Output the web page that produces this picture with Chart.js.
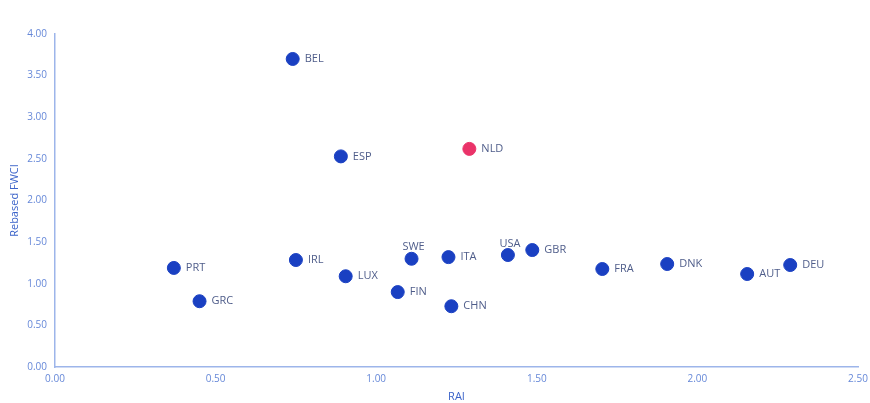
<!DOCTYPE html>
<html>
<head>
<meta charset="utf-8">
<script src="https://cdn.jsdelivr.net/npm/chart.js@4"></script>
<style>
  html, body { margin: 0; padding: 0; background: #fff; }
  #wrap { width: 870px; height: 403px; }
</style>
</head>
<body>
<div id="wrap"><canvas id="myChart" width="870" height="403"></canvas></div>
<script>
const countries = ['BEL', 'ESP', 'NLD', 'PRT', 'GRC', 'IRL', 'LUX', 'SWE', 'FIN', 'ITA', 'CHN', 'USA', 'GBR', 'FRA', 'DNK', 'AUT', 'DEU']
const raiValues = [0.74, 0.89, 1.29, 0.37, 0.45, 0.75, 0.905, 1.11, 1.067, 1.225, 1.234, 1.41, 1.486, 1.704, 1.906, 2.155, 2.289]
const fwciValues = [3.70, 2.53, 2.62, 1.19, 0.79, 1.285, 1.09, 1.30, 0.90, 1.32, 0.73, 1.345, 1.405, 1.177, 1.237, 1.117, 1.225]
const highlight = 'NLD'
const labelsAbove = ['SWE', 'USA']

const blue = '#1a40c2'
const pink = '#ea3369'
const tickColor = '#6688d8'
const axisColor = '#9db5ea'

const points = countries.map((c, i) => ({ x: raiValues[i], y: fwciValues[i], label: c }))
const colors = countries.map(c => c === highlight ? pink : blue)

const pointLabels = {
    id: 'pointLabels',
    afterDatasetsDraw(chart) {
        const ctx = chart.ctx
        const meta = chart.getDatasetMeta(0)
        ctx.save()
        ctx.font = '11px "Open Sans", sans-serif'
        ctx.fillStyle = '#4f5d8a'
        meta.data.forEach((pt, i) => {
            const name = countries[i]
            if (labelsAbove.includes(name)) {
                ctx.textAlign = 'center'
                ctx.textBaseline = 'bottom'
                ctx.fillText(name, pt.x + 2, pt.y - 6)
            } else {
                ctx.textAlign = 'left'
                ctx.textBaseline = 'middle'
                ctx.fillText(name, pt.x + 12, pt.y)
            }
        })
        ctx.restore()
    }
}

new Chart(document.getElementById('myChart'), {
    type: 'scatter',
    data: {
        datasets: [{
            data: points,
            backgroundColor: colors,
            borderColor: colors,
            pointRadius: 6.5,
            pointHoverRadius: 6.5
        }]
    },
    plugins: [pointLabels],
    options: {
        responsive: false,
        animation: false,
        layout: { padding: { top: 34, right: 12, left: 0, bottom: 0 } },
        plugins: { legend: { display: false }, tooltip: { enabled: false } },
        scales: {
            x: {
                min: 0, max: 2.5,
                afterFit(scale) {
                    scale.height = 36
                    scale.paddingRight = 0
                    scale.paddingLeft = 0
                },
                grid: { display: false, drawTicks: false },
                border: { color: axisColor, width: 1.5 },
                ticks: {
                    stepSize: 0.5, padding: 6, color: tickColor,
                    font: { family: 'Open Sans', size: 10 },
                    callback: v => v.toFixed(2), maxRotation: 0
                },
                title: { display: true, text: 'RAI', color: '#3b63c9', font: { family: 'Open Sans', size: 11 }, padding: { top: 0, bottom: 0 } }
            },
            y: {
                min: 0, max: 4,
                afterFit(scale) { scale.width = 55 },
                grid: { display: false, drawTicks: false },
                border: { color: axisColor, width: 1.5 },
                ticks: {
                    stepSize: 0.5, padding: 8, color: tickColor,
                    font: { family: 'Open Sans', size: 10 },
                    callback: v => v.toFixed(2)
                },
                title: { display: true, text: 'Rebased FWCI', color: '#3b63c9', font: { family: 'Open Sans', size: 11 }, padding: { top: 8, bottom: 4 } }
            }
        }
    }
})
</script>
</body>
</html>
